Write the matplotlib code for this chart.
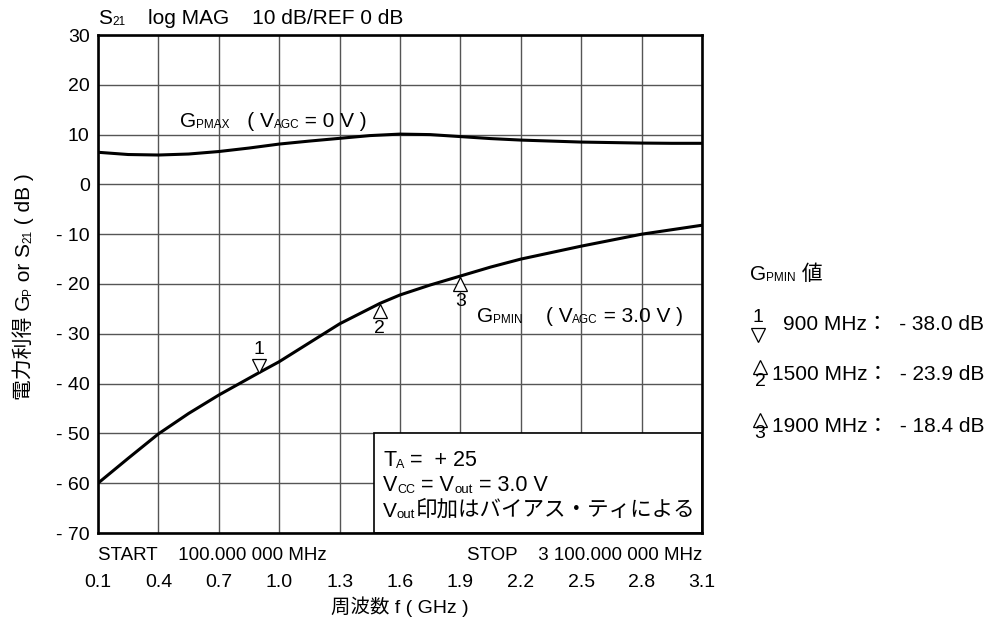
import matplotlib
matplotlib.use("Agg")
import matplotlib.pyplot as plt
from matplotlib.lines import Line2D
from matplotlib.patches import Rectangle
from matplotlib.transforms import ScaledTranslation

plt.rcParams["font.family"] = ["Liberation Sans", "Noto Sans CJK JP"]

# GPMAX (VAGC = 0 V)
freq_max = [0.1, 0.25, 0.4, 0.55, 0.7, 0.85, 1.0, 1.15, 1.3, 1.45, 1.6,
            1.75, 1.9, 2.05, 2.2, 2.35, 2.5, 2.65, 2.8, 2.95, 3.1]
gp_max = [6.45, 6.0, 5.9, 6.1, 6.6, 7.3, 8.1, 8.7, 9.25, 9.8, 10.1,
          10.0, 9.6, 9.2, 8.9, 8.7, 8.5, 8.4, 8.3, 8.25, 8.25]

# GPMIN (VAGC = 3.0 V)
freq_min = [0.1, 0.25, 0.4, 0.55, 0.7, 0.9, 1.0, 1.15, 1.3, 1.5, 1.6,
            1.75, 1.9, 2.05, 2.2, 2.35, 2.5, 2.65, 2.8, 2.95, 3.1]
gp_min = [-60.0, -55.0, -50.1, -46.0, -42.3, -37.8, -35.6, -31.8, -28.0, -23.9, -22.2,
          -20.2, -18.4, -16.6, -15.0, -13.7, -12.4, -11.2, -10.0, -9.1, -8.2]

# markers
marker_no = ["1", "2", "3"]
marker_freq = [0.9, 1.5, 1.9]
marker_gain = [-38.0, -23.9, -18.4]
marker_mhz = ["900", "1500", "1900"]

x_ticks = [0.1, 0.4, 0.7, 1.0, 1.3, 1.6, 1.9, 2.2, 2.5, 2.8, 3.1]
y_ticks = [-70, -60, -50, -40, -30, -20, -10, 0, 10, 20, 30]

FS = 15
FS_SMALL = 8.5


def rich_text(x, y, parts, transform, rotation=0):
    # draw text made of pieces of different sizes, baseline-aligned
    if rotation == 90:
        ha, va, nxt = "right", "bottom", (1, 1)
    else:
        ha, va, nxt = "left", "bottom", (1, 0)
    t = fig.text(x, y, parts[0][0], fontsize=parts[0][1], ha=ha, va=va,
                 rotation=rotation, transform=transform)
    for s, size in parts[1:]:
        t = fig.add_artist(plt.Annotation(s, xy=nxt, xycoords=t, fontsize=size,
                                          ha=ha, va=va, rotation=rotation))
    return t


fig = plt.figure(figsize=(9.9, 6.28), dpi=100)
ax = fig.add_axes([98 / 990, 1 - 533 / 628, 604 / 990, 498 / 628])

ax.plot(freq_max, gp_max, color="black", lw=2.2, zorder=3)
ax.plot(freq_min, gp_min, color="black", lw=2.2, zorder=3)

ax.set_xlim(0.1, 3.1)
ax.set_ylim(-70, 30)
ax.set_xticks(x_ticks)
ax.set_xticklabels([f"{v:.1f}" for v in x_ticks])
ax.set_yticks(y_ticks)
ax.set_yticklabels([f"- {abs(v)}" if v < 0 else f"{v}" for v in y_ticks])
ax.tick_params(length=0, labelsize=14)
ax.tick_params(axis="x", pad=29.5)
ax.tick_params(axis="y", pad=6)
ax.grid(True, color="#555555", lw=1.0)
for sp in ax.spines.values():
    sp.set_linewidth(1.9)
    sp.set_zorder(5)

# marker triangles on GPMIN curve
pt = fig.dpi_scale_trans
for no, f, g in zip(marker_no, marker_freq, marker_gain):
    if no == "1":
        tri_off = ScaledTranslation(0, 5.2 / 72, pt)
        ax.plot([f], [g], marker="v", ms=9.5, mfc="white", mec="black", mew=0.9,
                transform=ax.transData + tri_off, zorder=4)
        ax.annotate(no, xy=(f, g), xytext=(0, 11), textcoords="offset points",
                    ha="center", va="bottom", fontsize=14)
    else:
        tri_off = ScaledTranslation(0, -5.8 / 72, pt)
        ax.plot([f], [g], marker="^", ms=9.5, mfc="white", mec="black", mew=0.9,
                transform=ax.transData + tri_off, zorder=4)
        ax.annotate(no, xy=(f, g), xytext=(0, -12), textcoords="offset points",
                    ha="center", va="top", fontsize=14)

# condition box
box = Rectangle((1.47, -70), 1.63, 20, facecolor="white", edgecolor="black",
                lw=1.2, zorder=4)
ax.add_patch(box)

ft = fig.transFigure
W, H = 990, 628


def fx(px):
    return px / W


def fy(py):
    return 1 - py / H


# title
rich_text(fx(98), fy(28), [("S", 15), ("21", FS_SMALL),
                           ("    log MAG    10 dB/REF 0 dB", 15)], ft)

# curve labels
rich_text(fx(180), fy(131), [("G", 15), ("PMAX", FS_SMALL), ("   ( V", 15),
                             ("AGC", FS_SMALL), (" = 0 V )", 15)], ft)
rich_text(fx(477), fy(326), [("G", 15), ("PMIN", FS_SMALL), ("    ( V", 15),
                             ("AGC", FS_SMALL), (" = 3.0 V )", 15)], ft)

# box text
rich_text(fx(383), fy(471), [("T", 15.5), ("A", 9), (" =  + 25", 15.5)], ft)
rich_text(fx(383), fy(496), [("V", 15.5), ("CC", 9), (" = V", 15.5),
                             ("out", 9.5), (" = 3.0 V", 15.5)], ft)
rich_text(fx(383), fy(521), [("V", 15), ("out", 9.5),
                             ("印加はバイアス・ティによる", 15.5)], ft)

# start / stop
ax.text(0, -0.045, "START    100.000 000 MHz", transform=ax.transAxes,
        ha="left", va="center", fontsize=13.5)
ax.text(1, -0.045, "STOP    3 100.000 000 MHz", transform=ax.transAxes,
        ha="right", va="center", fontsize=13.5)

# axis labels
fig.text(fx(400), fy(607), "周波数 f ( GHz )", ha="center", va="center", fontsize=14)
rich_text(fx(34), fy(400), [("電力利得 G", 15), ("P", FS_SMALL), (" or S", 15),
                            ("21", FS_SMALL), (" ( dB )", 15)], ft, rotation=90)

# GPMIN value list
rich_text(fx(750), fy(284), [("G", FS), ("PMIN", FS_SMALL), (" 値", FS)], ft)
row_y = [324, 374, 427]
for no, mhz, g, ry in zip(marker_no, marker_mhz, marker_gain, row_y):
    fig.text(fx(984), fy(ry), f"{mhz} MHz：  - {abs(g):.1f} dB", ha="right",
             va="center", fontsize=FS)
    if no == "1":
        fig.text(fx(758), fy(ry - 6), no, ha="center", va="center", fontsize=14)
        fig.add_artist(Line2D([fx(758)], [fy(ry + 11)], marker="v", ms=9.5,
                              mfc="white", mec="black", mew=0.9, transform=ft))
    else:
        fig.add_artist(Line2D([fx(760)], [fy(ry - 7)], marker="^", ms=9.5,
                              mfc="white", mec="black", mew=0.9, transform=ft))
        fig.text(fx(760), fy(ry + 7), no, ha="center", va="center", fontsize=14)

fig.savefig("out.png", dpi=100)
